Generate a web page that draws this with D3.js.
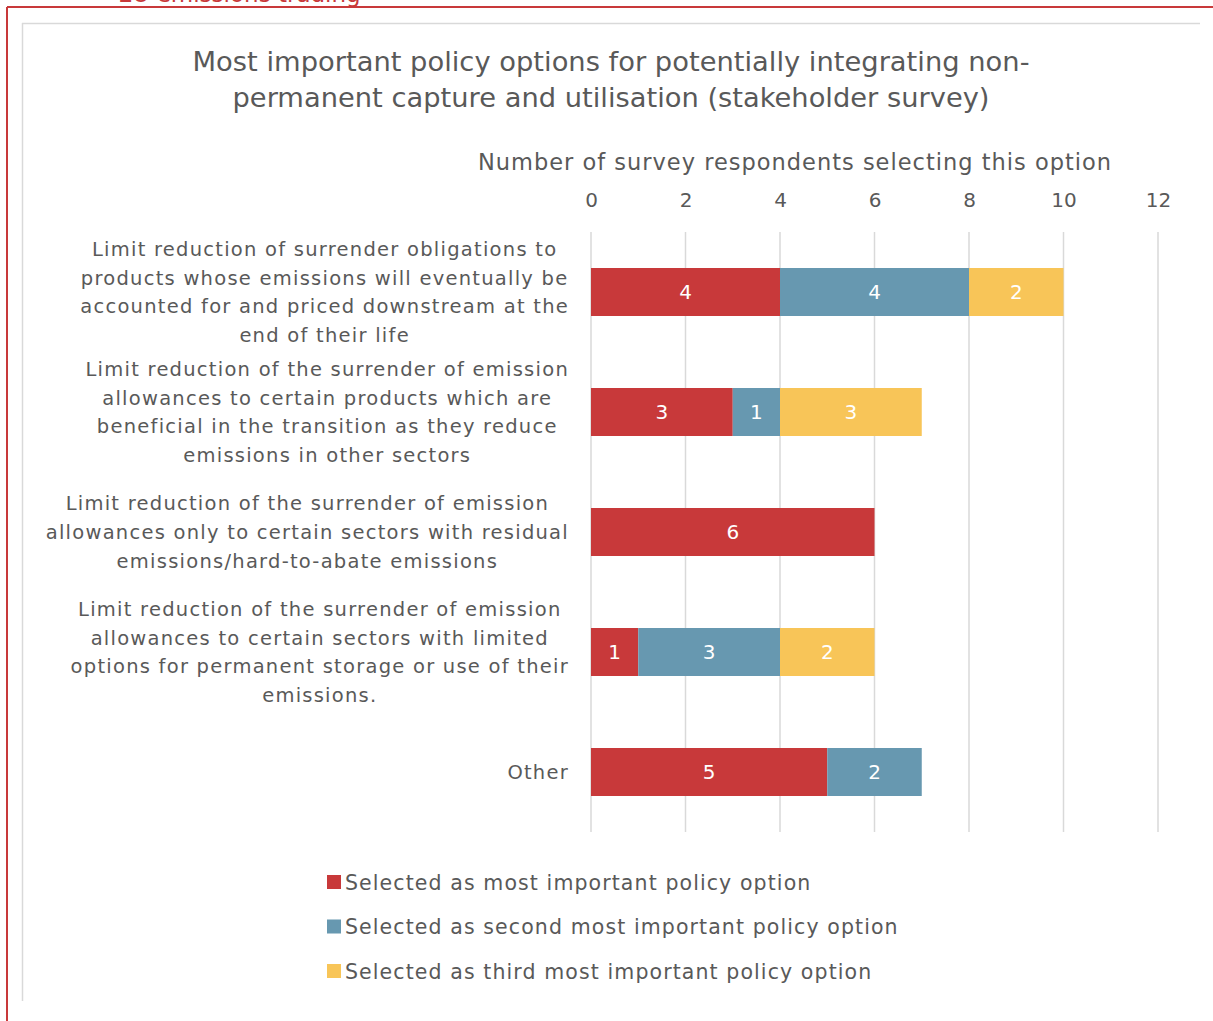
<!DOCTYPE html>
<html>
<head>
<meta charset="utf-8">
<script src="https://cdn.jsdelivr.net/npm/d3@7"></script>
<style>
  html, body { margin: 0; padding: 0; background: #fff; }
  svg { display: block; }
  text { font-family: "DejaVu Sans", "Open Sans", sans-serif; }
</style>
</head>
<body>
<svg id="chart" width="1213" height="1021"></svg>
<script>
// Policy options (wrapped label lines per category)
const categories = [
  ["Limit reduction of surrender obligations to", "products whose emissions will eventually be", "accounted for and priced downstream at the", "end of their life"],
  ["Limit reduction of the surrender of emission", "allowances to certain products which are", "beneficial in the transition as they reduce", "emissions in other sectors"],
  ["Limit reduction of the surrender of emission", "allowances only to certain sectors with residual", "emissions/hard-to-abate emissions"],
  ["Limit reduction of the surrender of emission", "allowances to certain sectors with limited", "options for permanent storage or use of their", "emissions."],
  ["Other"]
];
const seriesNames = [
  "Selected as most important policy option",
  "Selected as second most important policy option",
  "Selected as third most important policy option"
];
const mostImportant   = [4, 3, 6, 1, 5];
const secondImportant = [4, 1, 0, 3, 2];
const thirdImportant  = [2, 3, 0, 2, 0];
const xTicks = [0, 2, 4, 6, 8, 10, 12];
const titleLines = [
  "Most important policy options for potentially integrating non-",
  "permanent capture and utilisation (stakeholder survey)"
];
const axisTitle = "Number of survey respondents selecting this option";
const colors = ["#C8393A", "#6798B0", "#F8C558"];
const textColor = "#595959";

const svg = d3.select("#chart");

// Page framing: section heading and red frame
svg.append("text").attr("x", 118).attr("y", 2)
  .attr("font-size", 23).attr("fill", "#C8393A").text("EU emissions trading");
svg.append("line").attr("x1", 7).attr("x2", 1213).attr("y1", 7).attr("y2", 7)
  .attr("stroke", "#C8393A").attr("stroke-width", 2);
svg.append("line").attr("x1", 7).attr("x2", 7).attr("y1", 7).attr("y2", 1021)
  .attr("stroke", "#C8393A").attr("stroke-width", 2);

// Chart area outline
svg.append("line").attr("x1", 22).attr("x2", 1200).attr("y1", 23.5).attr("y2", 23.5)
  .attr("stroke", "#d9d9d9").attr("stroke-width", 1.5);
svg.append("line").attr("x1", 22.5).attr("x2", 22.5).attr("y1", 23).attr("y2", 1001)
  .attr("stroke", "#d9d9d9").attr("stroke-width", 1.5);

// Title
const titleWidths = [837, 757];
titleLines.forEach((t, i) => {
  svg.append("text")
    .attr("x", 611).attr("y", 71 + i * 36)
    .attr("text-anchor", "middle")
    .attr("font-size", 27)
    .attr("fill", textColor)
    .attr("textLength", titleWidths[i])
    .attr("lengthAdjust", "spacingAndGlyphs")
    .text(t);
});

// Scales
const x = d3.scaleLinear().domain([0, 12]).range([591, 1158]);
const y = d3.scaleBand().domain(d3.range(categories.length))
  .range([232, 832]).paddingInner(0.6).paddingOuter(0.3);

// Axis title
svg.append("text").attr("x", 795).attr("y", 170)
  .attr("text-anchor", "middle").attr("font-size", 22.5)
  .attr("letter-spacing", 1.0)
  .attr("fill", textColor).text(axisTitle);

// Gridlines
svg.append("g").selectAll("line").data(xTicks).join("line")
  .attr("x1", d => x(d)).attr("x2", d => x(d))
  .attr("y1", 232).attr("y2", 832)
  .attr("stroke", "#d9d9d9").attr("stroke-width", 1.5);

// Top axis tick labels
const axis = d3.axisTop(x).tickValues(xTicks).tickSize(0).tickPadding(0);
const gAxis = svg.append("g").attr("transform", "translate(0,207)").call(axis);
gAxis.select(".domain").remove();
gAxis.selectAll("text").attr("font-size", 20).attr("fill", textColor)
  .attr("font-family", "\"DejaVu Sans\", sans-serif");

// Stacked bars
const rows = categories.map((c, i) => ({
  i, values: [mostImportant[i], secondImportant[i], thirdImportant[i]]
}));
const stack = d3.stack().keys([0, 1, 2]).value((d, k) => d.values[k]);
const layers = stack(rows);

const gBars = svg.append("g");
layers.forEach((layer, k) => {
  const seg = gBars.append("g").selectAll("g")
    .data(layer.filter(d => d[1] - d[0] > 0)).join("g");
  seg.append("rect")
    .attr("x", d => x(d[0]))
    .attr("width", d => x(d[1]) - x(d[0]))
    .attr("y", d => y(d.data.i))
    .attr("height", y.bandwidth())
    .attr("fill", colors[k]);
  seg.append("text")
    .attr("x", d => (x(d[0]) + x(d[1])) / 2)
    .attr("y", d => y(d.data.i) + y.bandwidth() / 2 + 7)
    .attr("text-anchor", "middle")
    .attr("font-size", 20)
    .attr("fill", "#fff")
    .text(d => d[1] - d[0]);
});

// Category labels: centred lines, block right-aligned to the plot edge
const lineH = 28.8;
categories.forEach((lines, i) => {
  const cy = y(i) + y.bandwidth() / 2;
  const t = svg.append("text").attr("text-anchor", "middle")
    .attr("font-size", 19.5).attr("letter-spacing", 1.25).attr("fill", textColor);
  const y0 = cy - (lines.length - 1) * lineH / 2 + 7;
  lines.forEach((ln, j) => {
    t.append("tspan").attr("x", 0).attr("y", y0 + j * lineH).text(ln);
  });
  let maxW = 0;
  t.selectAll("tspan").each(function() {
    maxW = Math.max(maxW, this.getComputedTextLength());
  });
  t.selectAll("tspan").attr("x", 569 - maxW / 2);
});

// Legend
seriesNames.forEach((name, k) => {
  const ly = 882 + k * 44.5;
  svg.append("rect").attr("x", 327).attr("y", ly - 7).attr("width", 14).attr("height", 14)
    .attr("fill", colors[k]);
  svg.append("text").attr("x", 345).attr("y", ly + 7.5)
    .attr("font-size", 20.5).attr("letter-spacing", 1.1)
    .attr("fill", textColor).text(name);
});
</script>
</body>
</html>
